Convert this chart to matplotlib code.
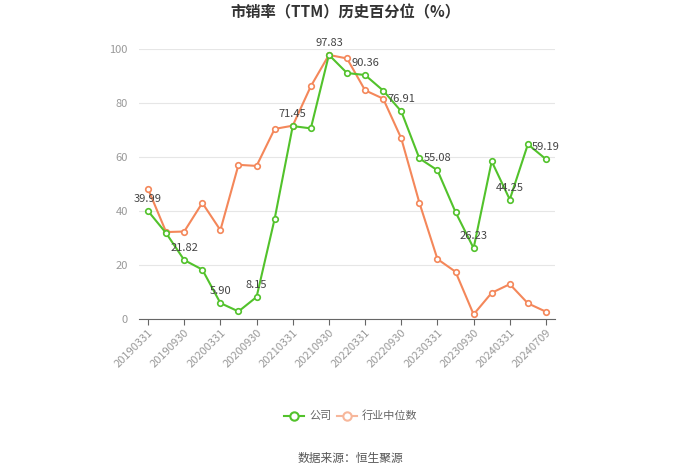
import matplotlib
matplotlib.use('Agg')
from matplotlib import pyplot as plt

plt.rcParams['font.family'] = ['Noto Sans CJK SC', 'DejaVu Sans']

dates = ['20190331', '20190630', '20190930', '20191231',
         '20200331', '20200630', '20200930', '20201231',
         '20210331', '20210630', '20210930', '20211231',
         '20220331', '20220630', '20220930', '20221231',
         '20230331', '20230630', '20230930', '20231231',
         '20240331', '20240630', '20240709']
company = [39.99, 31.8, 21.82, 18.3, 5.90, 2.8, 8.15, 37.1, 71.45, 70.6, 97.83, 91.1,
           90.36, 84.6, 76.91, 59.5, 55.08, 39.6, 26.23, 58.4, 44.25, 64.7, 59.19]
industry = [48.2, 32.2, 32.4, 43.0, 32.9, 57.1, 56.7, 70.4, 71.6, 86.2, 97.8, 96.5,
            84.7, 81.6, 66.9, 43.1, 22.2, 17.5, 1.7, 9.7, 12.9, 5.8, 2.7]

green = '#52c22b'
orange = '#f4875a'
grey = '#999999'

fig = plt.figure(figsize=(7, 4.73), dpi=100)
ax = fig.add_axes([139 / 700, 1 - 319 / 473, (555 - 139) / 700, 270 / 473])

x = list(range(len(dates)))
ax.plot(x, industry, '-o', color=orange, lw=1.5, ms=4, mfc='white', mec=orange, mew=1.2, zorder=3)
ax.plot(x, company, '-o', color=green, lw=1.5, ms=4, mfc='white', mec=green, mew=1.2, zorder=4)

for i in range(0, len(dates), 2):
    ax.annotate('{:.2f}'.format(company[i]), (i, company[i]), textcoords='offset points',
                xytext=(0, 5), ha='center', va='bottom', fontsize=8, color='#444444', zorder=5)

ax.set_xlim(-0.5, len(dates) - 0.5)
ax.set_ylim(0, 100)
ax.set_yticks([0, 20, 40, 60, 80, 100])
ax.set_xticks(x[::2])
ax.set_xticklabels(dates[::2], rotation=45, ha='right', rotation_mode='anchor', fontsize=8, color=grey)
ax.tick_params(axis='y', length=0, labelsize=8, labelcolor=grey, pad=8)
ax.tick_params(axis='x', length=4, color='#666666', pad=2)
ax.grid(axis='y', color='#e6e6e6', lw=0.8)
ax.set_axisbelow(True)
for s in ['top', 'right', 'left']:
    ax.spines[s].set_visible(False)
ax.spines['bottom'].set_color('#666666')

fig.text(0.494, 1 - 12 / 473, '市销率（TTM）历史百分位（%）', ha='center', va='center',
         fontsize=11, fontweight='bold', color='#333333')

# legend
lx, ly = 294 / 700, 1 - 416 / 473
fig.add_artist(plt.Line2D([lx - 10 / 700, lx + 10 / 700], [ly, ly], color=green, lw=1.5,
                          transform=fig.transFigure))
fig.add_artist(plt.Line2D([lx], [ly], color=green, marker='o', ms=6, mfc='white', mew=1.5,
                          transform=fig.transFigure))
fig.text(lx + 15 / 700, ly, '公司', ha='left', va='center', fontsize=8, color='#666666')
ox = 347 / 700
fig.add_artist(plt.Line2D([ox - 10 / 700, ox + 10 / 700], [ly, ly], color='#f7b79b', lw=1.5,
                          transform=fig.transFigure))
fig.add_artist(plt.Line2D([ox], [ly], color='#f7b79b', marker='o', ms=6, mfc='white', mew=1.5,
                          transform=fig.transFigure))
fig.text(ox + 15 / 700, ly, '行业中位数', ha='left', va='center', fontsize=8, color='#666666')

fig.text(0.5, 1 - 458 / 473, '数据来源：恒生聚源', ha='center', va='center', fontsize=8.5, color='#555555')

plt.savefig('out.png', dpi=100)
